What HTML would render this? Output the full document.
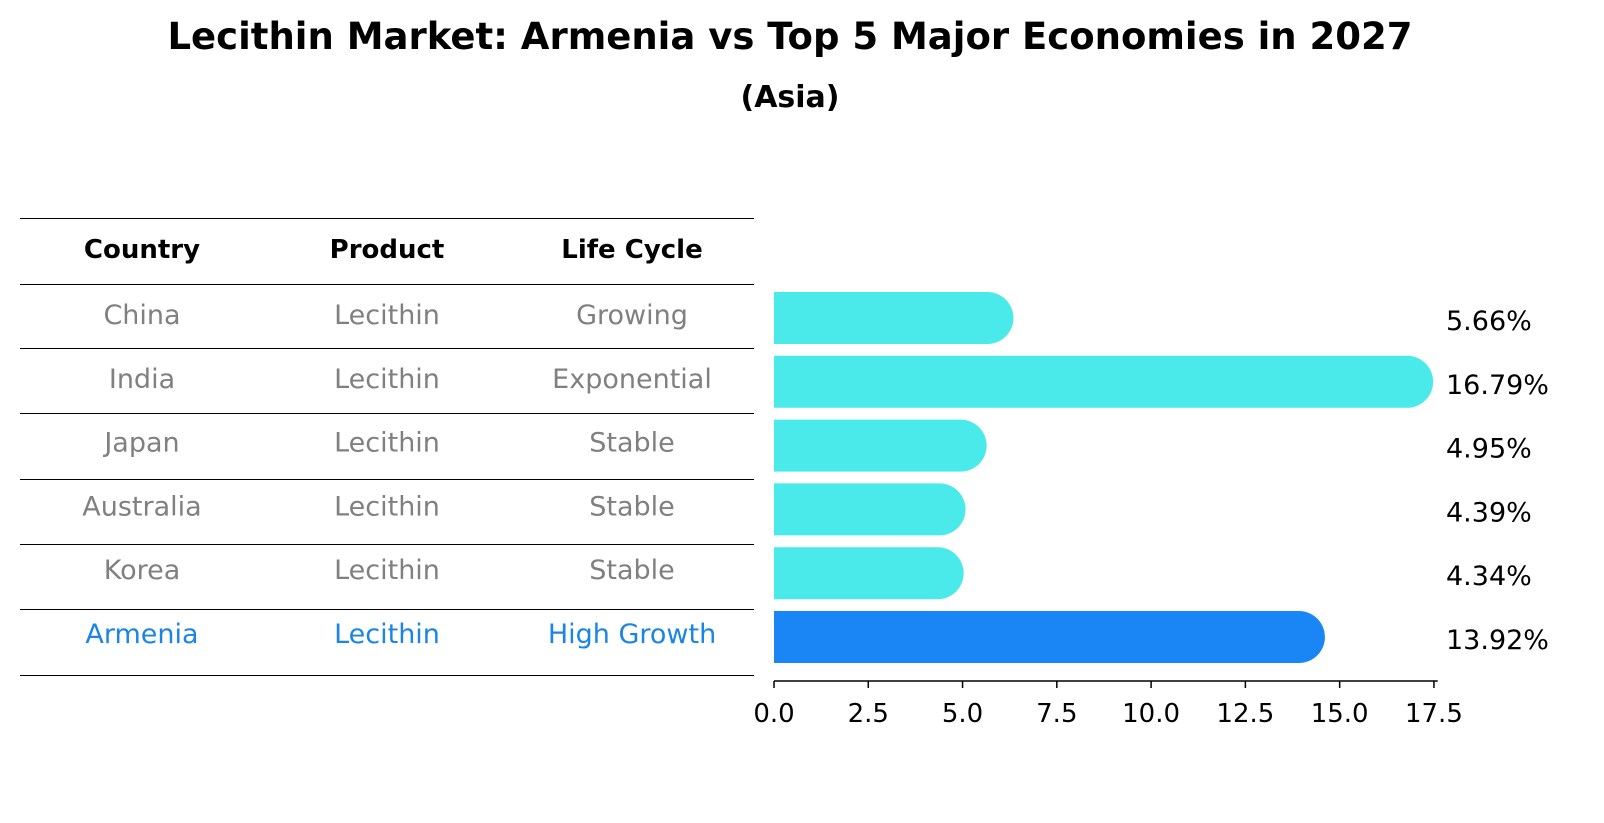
<!DOCTYPE html>
<html><head><meta charset="utf-8"><style>
body{margin:0;background:#fff;font-family:"Liberation Sans","DejaVu Sans",sans-serif}
#c{position:relative;width:1604px;height:823px;overflow:hidden}
</style></head><body>
<div id="c">
<svg id="s" width="1604" height="823" xmlns="http://www.w3.org/2000/svg">
<text x="790" y="49" text-anchor="middle" font-size="37" font-weight="bold" font-family="DejaVu Sans, sans-serif">Lecithin Market: Armenia vs Top 5 Major Economies in 2027</text>
<text x="790" y="107" text-anchor="middle" font-size="30" font-weight="bold" font-family="DejaVu Sans, sans-serif">(Asia)</text>
<g id="tbl"></g>
<g id="bars"></g>
</svg>
</div>
<script>
const countries=["China","India","Japan","Australia","Korea","Armenia"];
const products=["Lecithin","Lecithin","Lecithin","Lecithin","Lecithin","Lecithin"];
const lifeCycles=["Growing","Exponential","Stable","Stable","Stable","High Growth"];
const values=[5.66,16.79,4.95,4.39,4.34,13.92];
const ticks=[0,2.5,5,7.5,10,12.5,15,17.5];

const NS="http://www.w3.org/2000/svg";
const F="DejaVu Sans, sans-serif";
function mk(tag,attrs,parent){const e=document.createElementNS(NS,tag);for(const k in attrs)e.setAttribute(k,attrs[k]);parent.appendChild(e);return e;}
const x=v=>774+v*37.71;
const yc=i=>318+i*63.8;
const tbl=document.getElementById('tbl'),bars=document.getElementById('bars');
const lines=[218,284,348,413,479,544,609,675];
lines.forEach((ly,i)=>{const l=mk('line',{x1:20,x2:754,y1:ly+0.5,y2:ly+0.5,stroke:'#000','stroke-width':1},tbl);

});
const colX=[142,387,632];
["Country","Product","Life Cycle"].forEach((h,j)=>{const t=mk('text',{x:colX[j],y:258,'text-anchor':'middle','font-size':26,'font-weight':'bold','font-family':F},tbl);t.textContent=h;

});
countries.forEach((c,i)=>{
 const col=i===countries.length-1?'#1a85e6':'#808080';
 [c,products[i],lifeCycles[i]].forEach((v,j)=>{const t=mk('text',{x:colX[j],y:yc(i)+6,'text-anchor':'middle','font-size':27,fill:col,'font-family':F},tbl);t.textContent=v;
 
 });
});
values.forEach((v,i)=>{
 const col=i===values.length-1?'#1a85f5':'#4aeaea';
 const h=52,top=yc(i)-h/2,r=26;
 const p=mk('path',{d:`M${x(0)},${top} H${x(v)} A${r},${r} 0 0 1 ${x(v)},${top+h} H${x(0)} Z`,fill:col},bars);
 
 
 const t=mk('text',{x:1446,y:yc(i)+12,'font-size':27,'font-family':F},bars);t.textContent=v.toFixed(2)+'%';
 
 
});
const ax=mk('line',{x1:x(0),x2:x(17.6),y1:681,y2:681,stroke:'#000','stroke-width':1.5},bars);


ticks.forEach(tv=>{const l=mk('line',{x1:x(tv),x2:x(tv),y1:681,y2:688,stroke:'#000','stroke-width':1.5},bars);


const t=mk('text',{x:x(tv),y:722,'text-anchor':'middle','font-size':26,'font-family':F},bars);t.textContent=tv.toFixed(1);

});
</script>
</body></html>
